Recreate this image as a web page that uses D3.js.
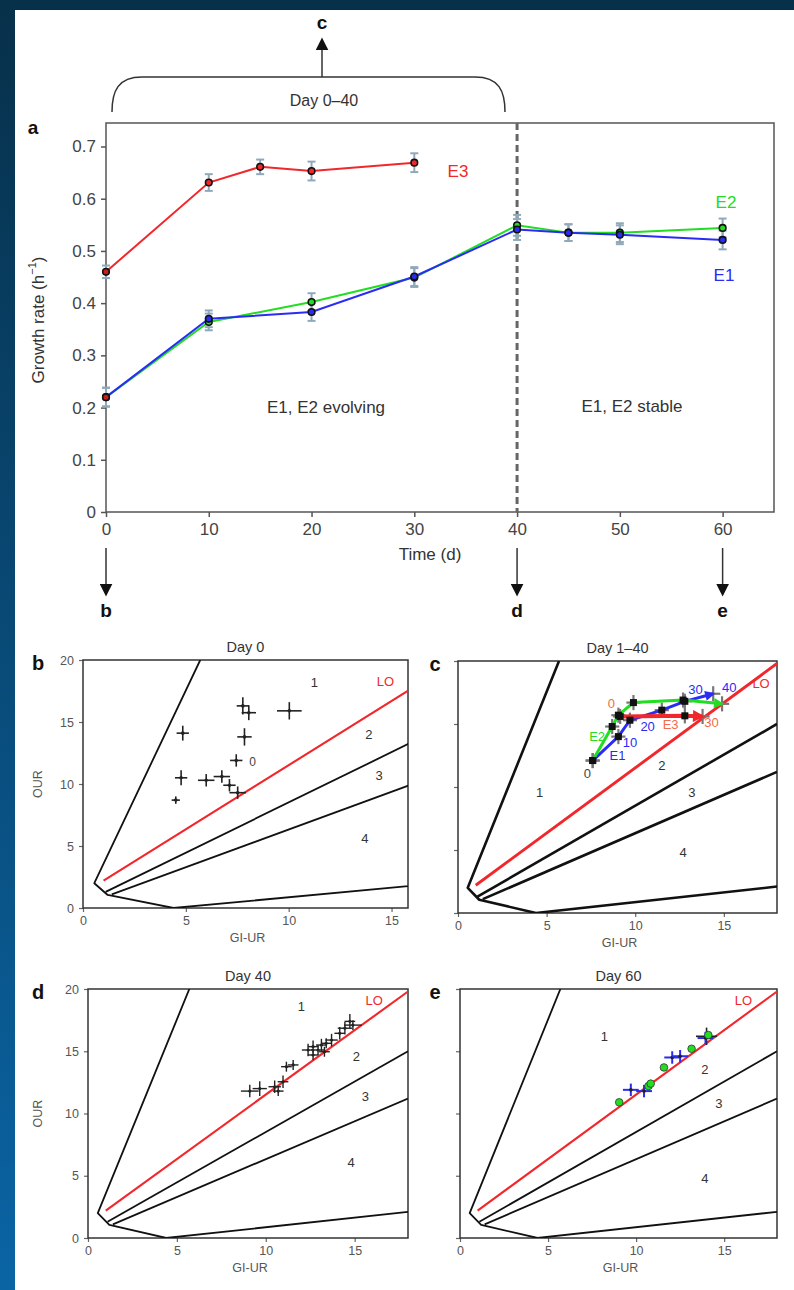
<!DOCTYPE html>
<html>
<head>
<meta charset="utf-8">
<script src="https://cdn.jsdelivr.net/npm/d3@7"></script>
<style>
  body { margin: 0; background: #fff; }
  svg { display: block; }
  text { font-family: "Liberation Sans", Arial, sans-serif; }
</style>
</head>
<body>
<div id="fig"></div>
<script>
// ---- panel a : growth rate vs time ----
const daysE3 = [0, 10, 15, 20, 30];
const rateE3 = [0.46, 0.631, 0.661, 0.653, 0.669];
const errE3 = [0.012, 0.016, 0.014, 0.018, 0.018];
const daysE12 = [0, 10, 20, 30, 40, 45, 50, 60];
const rateE1 = [0.22, 0.370, 0.383, 0.451, 0.541, 0.535, 0.531, 0.521];
const rateE2 = [0.22, 0.364, 0.402, 0.449, 0.549, 0.535, 0.535, 0.544];
const errE12 = [0.018, 0.016, 0.017, 0.018, 0.02, 0.016, 0.018, 0.018];
const aXTicks = [0, 10, 20, 30, 40, 50, 60];
const aYTicks = [0, 0.1, 0.2, 0.3, 0.4, 0.5, 0.6, 0.7];

// ---- phase plane panels (GI-UR vs OUR) ----
const xTicks = [0, 5, 10, 15];
const yTicks = [0, 5, 10, 15, 20];
// outer boundary of the feasible region and the internal boundaries
const boundaryOuter = [[5.7, 20], [0.55, 2.0], [1.2, 1.05], [4.4, 0], [18, 2.1]];
const boundary23 = [[1.1, 1.3], [18, 15.0]];
const boundary34 = [[1.4, 1.1], [18, 11.2]];
const loLine = [[1.0, 2.2], [18, 19.8]];

// b: day 0
const bGx = [7.77, 8.06, 10.03, 4.85, 7.85, 7.45, 4.77, 5.99, 6.75, 7.12, 7.52, 4.51];
const bOur = [16.3, 15.75, 15.9, 14.1, 13.8, 11.9, 10.5, 10.3, 10.6, 9.9, 9.3, 8.7];
const bGxErr = [0.3, 0.35, 0.6, 0.3, 0.35, 0.3, 0.3, 0.4, 0.4, 0.3, 0.4, 0.2];
const bOurErr = [0.7, 0.6, 0.7, 0.6, 0.7, 0.5, 0.6, 0.5, 0.5, 0.5, 0.5, 0.3];

// c: day 1-40 trajectories
const cE1Gx = [7.6, 9.05, 9.7, 11.5, 12.8, 14.4];
const cE1Our = [12.1, 14.0, 15.3, 16.1, 16.8, 17.4];
const cE2Gx = [7.6, 8.7, 9.05, 9.9, 12.7, 14.9];
const cE2Our = [12.1, 14.8, 15.7, 16.7, 16.9, 16.6];
const cE3Gx = [9.15, 12.8, 13.8];
const cE3Our = [15.6, 15.65, 15.6];

// d: day 40
const dGx = [9.1, 9.66, 10.5, 10.97, 10.7, 11.16, 11.54, 12.38, 12.66, 12.94, 13.13, 13.4, 13.7, 14.16, 14.45, 14.73, 12.66, 13.3, 14.9];
const dOur = [11.8, 12.0, 12.15, 12.55, 11.8, 13.76, 13.9, 15.1, 15.37, 15.1, 15.5, 15.64, 15.9, 16.44, 16.85, 17.4, 14.7, 14.96, 17.1];
const dGxErr = [0.5, 0.4, 0.35, 0.3, 0.3, 0.3, 0.3, 0.35, 0.3, 0.4, 0.3, 0.3, 0.35, 0.3, 0.4, 0.3, 0.3, 0.3, 0.5];
const dOurErr = [0.5, 0.6, 0.5, 0.5, 0.4, 0.4, 0.4, 0.5, 0.5, 0.4, 0.5, 0.4, 0.5, 0.5, 0.5, 0.6, 0.4, 0.4, 0.4];

// e: day 60
const eE2Gx = [9.04, 10.7, 10.83, 11.58, 13.15, 14.1];
const eE2Our = [10.9, 12.2, 12.4, 13.7, 15.2, 16.3];
const eE1Gx = [9.7, 10.45, 12.05, 12.5, 13.94];
const eE1Our = [11.9, 11.8, 14.5, 14.6, 16.06];

const RED = "#f2272b", GREEN = "#22dd22", BLUE = "#2a2cf5", GREY = "#444";

const W = 794, H = 1290;
const svg = d3.select("#fig").append("svg").attr("width", W).attr("height", H);
const defs = svg.append("defs");

// blue frame round the figure
const grad = defs.append("linearGradient").attr("id", "side")
  .attr("x1", 0).attr("y1", 0).attr("x2", 0).attr("y2", 1);
grad.append("stop").attr("offset", "0%").attr("stop-color", "#07304a");
grad.append("stop").attr("offset", "100%").attr("stop-color", "#0a64a4");
svg.append("rect").attr("width", W).attr("height", H).attr("fill", "url(#side)");
svg.append("rect").attr("width", W).attr("height", 10).attr("fill", "#07304a");
svg.append("rect").attr("x", 15).attr("y", 10).attr("width", W - 15).attr("height", H - 10).attr("fill", "#fff");

// arrow heads
function arrowMarker(id, color, w, h) {
  defs.append("marker").attr("id", id)
    .attr("viewBox", "0 0 10 10").attr("refX", 8).attr("refY", 5)
    .attr("markerUnits", "userSpaceOnUse")
    .attr("markerWidth", w).attr("markerHeight", h)
    .attr("orient", "auto")
    .append("path").attr("d", "M0,0 L10,5 L0,10 z").attr("fill", color);
}
arrowMarker("arBlack", "#111", 13, 13);
arrowMarker("arRed", RED, 14, 12);
arrowMarker("arBlue", BLUE, 11, 10);
arrowMarker("arGreen", GREEN, 11, 10);

function label(g, x, y, txt, size, color, opts) {
  opts = opts || {};
  return g.append("text").attr("x", x).attr("y", y)
    .attr("text-anchor", opts.anchor || "middle")
    .attr("dominant-baseline", "central")
    .attr("font-size", size)
    .attr("font-weight", opts.bold ? "bold" : null)
    .attr("fill", color)
    .text(txt);
}

// ================= panel a =================
const ax = d3.scaleLinear().domain([0, 65]).range([106, 774]);
const ay = d3.scaleLinear().domain([0, 0.745]).range([512, 123]);
const pa = svg.append("g");

pa.append("rect").attr("x", ax(0)).attr("y", ay(0.745))
  .attr("width", ax(65) - ax(0)).attr("height", ay(0) - ay(0.745))
  .attr("fill", "none").attr("stroke", "#555").attr("stroke-width", 1.5);

const axB = pa.append("g").attr("transform", "translate(0," + ay(0) + ")")
  .call(d3.axisBottom(ax).tickValues(aXTicks).tickSize(5).tickPadding(6).tickFormat(d3.format("d")));
const axL = pa.append("g").attr("transform", "translate(" + ax(0) + ",0)")
  .call(d3.axisLeft(ay).tickValues(aYTicks).tickSize(5).tickPadding(5)
    .tickFormat(d => d === 0 ? "0" : d3.format(".1f")(d)));
[axB, axL].forEach(g => {
  g.select(".domain").remove();
  g.selectAll(".tick line").attr("stroke", "#555").attr("stroke-width", 1.5);
  g.selectAll("text").attr("font-size", 17).attr("fill", "#444")
    .style("font-family", '"Liberation Sans", Arial, sans-serif');
});

// dashed line at day 40
pa.append("line").attr("x1", ax(40)).attr("x2", ax(40))
  .attr("y1", ay(0.745)).attr("y2", ay(0))
  .attr("stroke", "#666").attr("stroke-width", 3).attr("stroke-dasharray", "7,4");

const seriesA = [
  { days: daysE3, rate: rateE3, err: errE3, color: RED },
  { days: daysE12, rate: rateE2, err: errE12, color: GREEN },
  { days: daysE12, rate: rateE1, err: errE12, color: BLUE }
];
const lineA = d3.line().x(d => ax(d[0])).y(d => ay(d[1]));

seriesA.forEach(s => {
  s.days.forEach((d, i) => {
    const x = ax(d), y1 = ay(s.rate[i] - s.err[i]), y2 = ay(s.rate[i] + s.err[i]);
    const g = pa.append("g").attr("stroke", "#8fa9bb").attr("stroke-width", 2);
    g.append("line").attr("x1", x).attr("x2", x).attr("y1", y1).attr("y2", y2);
    g.append("line").attr("x1", x - 4).attr("x2", x + 4).attr("y1", y1).attr("y2", y1);
    g.append("line").attr("x1", x - 4).attr("x2", x + 4).attr("y1", y2).attr("y2", y2);
  });
});
seriesA.forEach(s => {
  pa.append("path").datum(s.days.map((d, i) => [d, s.rate[i]]))
    .attr("d", lineA).attr("fill", "none").attr("stroke", s.color).attr("stroke-width", 2);
});
seriesA.forEach(s => {
  s.days.forEach((d, i) => {
    pa.append("circle").attr("cx", ax(d)).attr("cy", ay(s.rate[i])).attr("r", 3.3)
      .attr("fill", i === 0 ? "#c81e1e" : s.color).attr("stroke", "#111").attr("stroke-width", 1.6);
  });
});

label(pa, 458, 171, "E3", 17, RED);
label(pa, 726, 202, "E2", 17, GREEN);
label(pa, 724, 275, "E1", 17, BLUE);
label(pa, 326, 407, "E1, E2 evolving", 17, "#333");
label(pa, 632, 406, "E1, E2 stable", 17, "#333");
label(pa, 430, 554, "Time (d)", 17, "#333");
label(pa, 33, 127, "a", 19, "#111", { bold: true });

const yTitle = pa.append("text").attr("transform", "translate(38,320) rotate(-90)")
  .attr("text-anchor", "middle").attr("dominant-baseline", "central")
  .attr("font-size", 17).attr("fill", "#333");
yTitle.append("tspan").text("Growth rate (h");
yTitle.append("tspan").attr("font-size", 11).attr("dy", -6).text("\u22121");
yTitle.append("tspan").attr("dy", 6).text(")");

// bracket "Day 0-40" with arrow to c
const bx0 = 112, bx1 = 505, bTop = 77, bBot = 112, bMid = 322;
pa.append("path")
  .attr("d", `M${bx0},${bBot} C${bx0},${bTop + 14} ${bx0 + 6},${bTop} ${bx0 + 30},${bTop} L${bx1 - 30},${bTop} C${bx1 - 6},${bTop} ${bx1},${bTop + 14} ${bx1},${bBot}`)
  .attr("fill", "none").attr("stroke", "#333").attr("stroke-width", 1.5);
pa.append("line").attr("x1", bMid).attr("x2", bMid).attr("y1", bTop).attr("y2", 40)
  .attr("stroke", "#333").attr("stroke-width", 1.5).attr("marker-end", "url(#arBlack)");
label(pa, bMid, 22, "c", 19, "#111", { bold: true });
label(pa, bMid + 2, 100, "Day 0\u201340", 16, "#333");

// down arrows to b, d, e
[[0, "b"], [40, "d"], [60, "e"]].forEach(([d, t]) => {
  pa.append("line").attr("x1", ax(d)).attr("x2", ax(d)).attr("y1", 548).attr("y2", 594)
    .attr("stroke", "#333").attr("stroke-width", 1.5).attr("marker-end", "url(#arBlack)");
  label(pa, ax(d), 610, t, 19, "#111", { bold: true });
});

// ================= phase plane panels =================
let clipId = 0;
function phasePanel(cfg) {
  const sx = d3.scaleLinear().domain([0, cfg.xMax]).range([cfg.left, cfg.right]);
  const sy = d3.scaleLinear().domain([0, 20]).range([cfg.bottom, cfg.top]);
  const g = svg.append("g");
  const id = "clip" + (clipId++);
  defs.append("clipPath").attr("id", id).append("rect")
    .attr("x", cfg.left).attr("y", cfg.top)
    .attr("width", cfg.right - cfg.left).attr("height", cfg.bottom - cfg.top);

  const xa = g.append("g").attr("transform", "translate(0," + cfg.bottom + ")")
    .call(d3.axisBottom(sx).tickValues(xTicks).tickSize(4).tickPadding(4));
  const ya = g.append("g").attr("transform", "translate(" + cfg.left + ",0)")
    .call(d3.axisLeft(sy).tickValues(yTicks).tickSize(4).tickPadding(5)
      .tickFormat(cfg.yLabels ? d3.format("d") : () => ""));
  [xa, ya].forEach(a => {
    a.select(".domain").remove();
    a.selectAll(".tick line").attr("stroke", "#666").attr("stroke-width", 1.2);
    a.selectAll("text").attr("font-size", 12.5).attr("fill", "#555")
      .style("font-family", '"Liberation Sans", Arial, sans-serif');
  });
  g.append("rect").attr("x", cfg.left).attr("y", cfg.top)
    .attr("width", cfg.right - cfg.left).attr("height", cfg.bottom - cfg.top)
    .attr("fill", "none").attr("stroke", "#333").attr("stroke-width", 1.5);

  const line = d3.line().x(d => sx(d[0])).y(d => sy(d[1]));
  const lines = g.append("g").attr("clip-path", "url(#" + id + ")").attr("fill", "none");
  [boundaryOuter, boundary23, boundary34].forEach(b => {
    lines.append("path").datum(b).attr("d", line)
      .attr("stroke", "#111").attr("stroke-width", cfg.lw).attr("stroke-linejoin", "round");
  });
  lines.append("path").datum(loLine).attr("d", line)
    .attr("stroke", RED).attr("stroke-width", cfg.lw + 0.3);

  label(g, (cfg.left + cfg.right) / 2, cfg.top - 13, cfg.title, 14.5, "#333");
  label(g, (cfg.left + cfg.right) / 2 + 2, cfg.bottom + 30, "GI-UR", 12.5, "#555");
  if (cfg.yTitle) {
    g.append("text").attr("transform", `translate(38,${(cfg.top + cfg.bottom) / 2}) rotate(-90)`)
      .attr("text-anchor", "middle").attr("dominant-baseline", "central")
      .attr("font-size", 12.5).attr("fill", "#555").text("OUR");
  }
  label(g, cfg.letterX, cfg.top + 3, cfg.letter, 20, "#111", { bold: true });
  cfg.regions.forEach(r => label(g, sx(r[1]), sy(r[2]), r[0], 13, r[0] === "LO" ? RED : "#333"));
  return { g, sx, sy };
}

function cross(g, sx, sy, x, y, ex, ey, color, w) {
  g.append("line").attr("x1", sx(x - ex)).attr("x2", sx(x + ex)).attr("y1", sy(y)).attr("y2", sy(y))
    .attr("stroke", color).attr("stroke-width", w);
  g.append("line").attr("x1", sx(x)).attr("x2", sx(x)).attr("y1", sy(y - ey)).attr("y2", sy(y + ey))
    .attr("stroke", color).attr("stroke-width", w);
}

// ---- b ----
const pb = phasePanel({
  left: 83, right: 408, top: 660, bottom: 908, xMax: 15.8, lw: 1.8,
  title: "Day 0", letter: "b", letterX: 38, yLabels: true, yTitle: true,
  regions: [["1", 11.25, 18.2], ["LO", 14.7, 18.3], ["2", 13.9, 14.0], ["3", 14.4, 10.7], ["4", 13.7, 5.6]]
});
bGx.forEach((x, i) => {
  cross(pb.g, pb.sx, pb.sy, x, bOur[i], bGxErr[i], bOurErr[i], "#222", 1.6);
  pb.g.append("circle").attr("cx", pb.sx(x)).attr("cy", pb.sy(bOur[i])).attr("r", 1.8).attr("fill", "#222");
});
label(pb.g, pb.sx(8.25), pb.sy(11.8), "0", 12, "#444");

// ---- c ----
const pc = phasePanel({
  left: 458, right: 777, top: 661, bottom: 913, xMax: 18, lw: 2.6,
  title: "Day 1\u201340", letter: "c", letterX: 435, yLabels: false, yTitle: false,
  regions: [["1", 4.6, 9.6], ["2", 11.5, 11.7], ["3", 13.2, 9.6], ["4", 12.7, 4.8], ["LO", 17.1, 18.2]]
});
const trajC = [
  { gx: cE1Gx, our: cE1Our, color: BLUE, arrow: "arBlue", w: 3 },
  { gx: cE2Gx, our: cE2Our, color: GREEN, arrow: "arGreen", w: 3 },
  { gx: cE3Gx, our: cE3Our, color: RED, arrow: "arRed", w: 4 }
];
trajC.forEach(t => t.gx.forEach((x, i) =>
  cross(pc.g, pc.sx, pc.sy, x, t.our[i], 0.4, 0.6, "#777", 2.2)));
const lineC = d3.line().x(d => pc.sx(d[0])).y(d => pc.sy(d[1]));
trajC.forEach(t => {
  pc.g.append("path").datum(t.gx.map((x, i) => [x, t.our[i]]))
    .attr("d", lineC).attr("fill", "none").attr("stroke", t.color)
    .attr("stroke-width", t.w).attr("marker-end", "url(#" + t.arrow + ")");
});
trajC.forEach(t => t.gx.forEach((x, i) => {
  if (i === t.gx.length - 1) return;
  pc.g.append("rect").attr("x", pc.sx(x) - 3.5).attr("y", pc.sy(t.our[i]) - 3.5)
    .attr("width", 7).attr("height", 7).attr("fill", "#111");
}));
[["0", 7.3, 11.1, GREY], ["E1", 9.0, 12.5, BLUE], ["E2", 7.85, 14.0, GREEN], ["10", 9.7, 13.5, BLUE],
 ["20", 10.7, 14.8, BLUE], ["30", 13.4, 17.7, BLUE], ["40", 15.3, 17.9, BLUE],
 ["0", 8.65, 16.6, "#f26b4a"], ["E3", 12.0, 15.0, "#f26b4a"], ["30", 14.3, 15.1, "#f26b4a"]]
  .forEach(l => label(pc.g, pc.sx(l[1]), pc.sy(l[2]), l[0], 13, l[3]));

// ---- d ----
const pd = phasePanel({
  left: 88, right: 408, top: 989, bottom: 1238, xMax: 18, lw: 1.8,
  title: "Day 40", letter: "d", letterX: 38, yLabels: true, yTitle: true,
  regions: [["1", 12.0, 18.6], ["LO", 16.1, 19.1], ["2", 15.1, 14.6], ["3", 15.6, 11.4], ["4", 14.8, 6.1]]
});
dGx.forEach((x, i) => {
  cross(pd.g, pd.sx, pd.sy, x, dOur[i], dGxErr[i], dOurErr[i], "#222", 1.4);
  pd.g.append("circle").attr("cx", pd.sx(x)).attr("cy", pd.sy(dOur[i])).attr("r", 1.6).attr("fill", "#222");
});

// ---- e ----
const pe = phasePanel({
  left: 460, right: 777, top: 989, bottom: 1238, xMax: 18, lw: 1.8,
  title: "Day 60", letter: "e", letterX: 435, yLabels: false, yTitle: false,
  regions: [["1", 8.2, 16.2], ["LO", 16.1, 19.1], ["2", 13.9, 13.5], ["3", 14.7, 10.8], ["4", 13.9, 4.75]]
});
cross(pe.g, pe.sx, pe.sy, 14.0, 16.2, 0.6, 0.7, "#222", 1.6);
eE1Gx.forEach((x, i) => {
  cross(pe.g, pe.sx, pe.sy, x, eE1Our[i], 0.45, 0.5, BLUE, 2);
  pe.g.append("circle").attr("cx", pe.sx(x)).attr("cy", pe.sy(eE1Our[i])).attr("r", 1.8).attr("fill", "#222");
});
eE2Gx.forEach((x, i) => {
  pe.g.append("circle").attr("cx", pe.sx(x)).attr("cy", pe.sy(eE2Our[i])).attr("r", 3.8)
    .attr("fill", GREEN).attr("stroke", "#333").attr("stroke-width", 0.8);
});
</script>
</body>
</html>
